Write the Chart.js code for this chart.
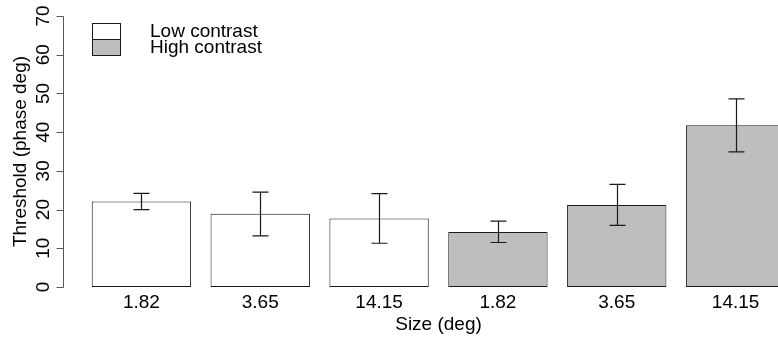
<!DOCTYPE html>
<html>
<head>
<meta charset="utf-8">
<title>Threshold by size</title>
<style>
  html, body { margin: 0; padding: 0; background: #fff; overflow: hidden; }
  #wrap { width: 778px; height: 339px; overflow: hidden; }
  canvas { display: block; }
</style>
</head>
<body>
<div id="wrap"><canvas id="thresholdChart" width="800" height="339"></canvas></div>
<script src="https://cdn.jsdelivr.net/npm/chart.js@4/dist/chart.umd.min.js"></script>
<script>
const sizeLabels = ['1.82', '3.65', '14.15', '1.82', '3.65', '14.15'];
const contrastGroups = ['Low contrast', 'Low contrast', 'Low contrast', 'High contrast', 'High contrast', 'High contrast'];
const thresholds = [22.1, 18.9, 17.7, 14.2, 21.2, 41.8];
const errLow = [20.0, 13.2, 11.3, 11.5, 15.9, 34.9];
const errHigh = [24.2, 24.5, 24.1, 17.0, 26.5, 48.6];
const yTicks = [0, 10, 20, 30, 40, 50, 60, 70];
const legendNames = ['Low contrast', 'High contrast'];
const legendFills = ['#ffffff', '#bebebe'];

const FONT = '"Liberation Sans", Arial, Helvetica, sans-serif';
const FONT_SIZE = 19;
const INK = '#1a1a1a';

const barFills = contrastGroups.map((g) => legendFills[legendNames.indexOf(g)]);

// R-style y axis: line + ticks to the left of the plot, rotated labels
const yAxisPlugin = {
  id: 'yAxisR',
  afterDraw(chart) {
    const { ctx } = chart;
    const yScale = chart.scales.y;
    const ax = 63.5;
    ctx.save();
    ctx.strokeStyle = '#555';
    ctx.lineWidth = 1;
    ctx.beginPath();
    ctx.moveTo(ax, Math.round(yScale.getPixelForValue(yTicks[0])) + 0.5);
    ctx.lineTo(ax, Math.round(yScale.getPixelForValue(yTicks[yTicks.length - 1])) + 0.5);
    yTicks.forEach((v) => {
      const py = Math.round(yScale.getPixelForValue(v)) + 0.5;
      ctx.moveTo(ax - 7, py);
      ctx.lineTo(ax, py);
    });
    ctx.stroke();
    ctx.fillStyle = '#000';
    ctx.font = `${FONT_SIZE}px ${FONT}`;
    ctx.textAlign = 'center';
    ctx.textBaseline = 'middle';
    yTicks.forEach((v) => {
      const py = yScale.getPixelForValue(v);
      ctx.save();
      ctx.translate(44, py);
      ctx.rotate(-Math.PI / 2);
      ctx.fillText(String(v), 0, 0);
      ctx.restore();
    });
    ctx.restore();
  },
};

const errorBarPlugin = {
  id: 'errorBars',
  afterDatasetsDraw(chart) {
    const { ctx } = chart;
    const yScale = chart.scales.y;
    const meta = chart.getDatasetMeta(0);
    const cap = 8;
    ctx.save();
    ctx.strokeStyle = INK;
    ctx.lineWidth = 1.2;
    meta.data.forEach((bar, i) => {
      const x = Math.round(bar.x) + 0.5;
      const lo = yScale.getPixelForValue(errLow[i]);
      const hi = yScale.getPixelForValue(errHigh[i]);
      ctx.beginPath();
      ctx.moveTo(x, lo);
      ctx.lineTo(x, hi);
      ctx.moveTo(x - cap, hi);
      ctx.lineTo(x + cap, hi);
      ctx.moveTo(x - cap, lo);
      ctx.lineTo(x + cap, lo);
      ctx.stroke();
    });
    ctx.restore();
  },
};

const legendPlugin = {
  id: 'legendR',
  afterDraw(chart) {
    const { ctx } = chart;
    const bx = 92.5;
    const bw = 28;
    const bh = 16;
    let by = 23.5;
    ctx.save();
    ctx.font = `${FONT_SIZE}px ${FONT}`;
    ctx.textAlign = 'left';
    ctx.textBaseline = 'middle';
    legendNames.forEach((name, i) => {
      ctx.fillStyle = legendFills[i];
      ctx.fillRect(bx, by, bw, bh);
      ctx.strokeStyle = INK;
      ctx.lineWidth = 1;
      ctx.strokeRect(bx, by, bw, bh);
      ctx.fillStyle = '#000';
      ctx.fillText(name, 150, by + bh / 2);
      by += bh;
    });
    ctx.restore();
  },
};

function drawChart() {
  const ctx = document.getElementById('thresholdChart');
  // eslint-disable-next-line no-unused-vars,no-undef
  const thresholdChart = new Chart(ctx, {
    type: 'bar',
    data: {
      labels: sizeLabels,
      datasets: [{
        data: thresholds,
        backgroundColor: barFills,
        borderColor: INK,
        borderWidth: 1,
        borderSkipped: false,
        barPercentage: 0.836,
        categoryPercentage: 1,
      }],
    },
    options: {
      responsive: false,
      animation: false,
      devicePixelRatio: 1,
      layout: {
        padding: { top: 16, left: 0, right: 5, bottom: 0 },
      },
      plugins: {
        legend: { display: false },
        tooltip: { enabled: false },
      },
      scales: {
        x: {
          type: 'category',
          offset: true,
          grid: { display: false },
          border: { display: false },
          ticks: {
            color: '#000',
            font: { family: FONT, size: FONT_SIZE, lineHeight: 1.2 },
            padding: -4,
            maxRotation: 0,
            autoSkip: false,
          },
          title: {
            display: true,
            text: 'Size (deg)',
            color: '#000',
            font: { family: FONT, size: FONT_SIZE, lineHeight: 1.2 },
            padding: { top: 0, bottom: 3 },
          },
          afterFit: (scale) => { scale.height = 52; },
        },
        y: {
          min: 0,
          max: 70,
          grid: { display: false },
          border: { display: false },
          ticks: { display: false, stepSize: 10 },
          title: {
            display: true,
            text: 'Threshold (phase deg)',
            color: '#000',
            font: { family: FONT, size: FONT_SIZE, lineHeight: 1.2 },
            padding: { top: 9, bottom: 0 },
          },
          afterFit: (scale) => { scale.width = 82; },
        },
      },
    },
    plugins: [yAxisPlugin, errorBarPlugin, legendPlugin],
  });
}

document.addEventListener('DOMContentLoaded', () => {
  drawChart();
});
</script>
</body>
</html>
